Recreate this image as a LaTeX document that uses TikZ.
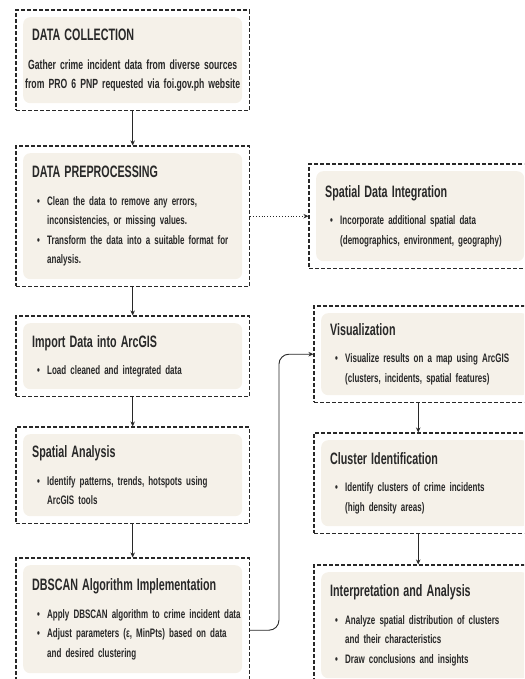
\documentclass[tikz,border=0pt]{standalone}
\usepackage{fontspec}
\setmainfont{Liberation Sans}[FakeStretch=0.65]
\usetikzlibrary{fit,arrows.meta}

\definecolor{paper}{RGB}{245,241,233}
\definecolor{ink}{RGB}{40,40,40}
\hyphenpenalty=10000
\newcommand{\hd}[1]{\noindent\hspace*{9pt}{\fontsize{16.5}{19}\selectfont #1}\par\vspace{8pt}}
\newcommand{\bl}[1]{\par\hangindent=24pt\hangafter=1\noindent\hspace*{14pt}\makebox[10pt][l]{\textbullet}#1\par}

\begin{document}
\begin{tikzpicture}[x=1pt,y=-1pt]
    \tikzstyle{every node}=[font=\fontsize{12.3}{19.5}\selectfont\bfseries, text=ink]
    \tikzstyle{stage}=[fill=paper, rounded corners=7pt, anchor=north west, inner xsep=0pt, inner ysep=0pt, text width=219pt, align=left]
    \tikzstyle{side}=[stage, text width=208pt]
    \tikzstyle{frame}=[draw=ink, line width=1.1pt, dash pattern=on 4pt off 2pt, inner sep=7pt]
    \tikzstyle{flow}=[draw=ink, line width=0.9pt, -{Stealth[length=5pt,width=4.5pt]}]

    \useasboundingbox (0,0) rectangle (524,679);
    \clip (0,0) rectangle (524,679);

    \node[stage, minimum height=86pt] (collect-in) at (23,17)
        {\hd{DATA COLLECTION}\vspace{2pt}{\centering\fontsize{13.3}{19}\selectfont Gather crime incident data from diverse sources\\ from PRO 6 PNP requested via foi.gov.ph website\par}};
    \node[stage, minimum height=126pt] (prep-in) at (23,153)
        {\hd{DATA PREPROCESSING}\bl{Clean the data to remove any errors,\newline inconsistencies, or missing values.}\bl{Transform the data into a suitable format for\newline analysis.}};
    \node[stage, minimum height=66pt] (import-in) at (23,323)
        {\hd{Import Data into ArcGIS}\bl{Load cleaned and integrated data}};
    \node[stage, minimum height=82pt] (analysis-in) at (23,434)
        {\hd{Spatial Analysis}\bl{Identify patterns, trends, hotspots using\newline ArcGIS tools}};
    \node[stage, minimum height=108pt] (dbscan-in) at (23,565)
        {\hd{DBSCAN Algorithm Implementation}\bl{\mbox{Apply DBSCAN algorithm to crime incident data}}\bl{Adjust parameters (ε, MinPts) based on data\newline and desired clustering}};

    \node[side, minimum height=90pt] (integ-in) at (316,171)
        {\hd{Spatial Data Integration}\bl{Incorporate additional spatial data\newline (demographics, environment, geography)}};
    \node[side, minimum height=82pt] (visual-in) at (321,313)
        {\hd{Visualization}\bl{Visualize results on a map using ArcGIS\newline (clusters, incidents, spatial features)}};
    \node[side, minimum height=86pt] (cluster-in) at (321,440)
        {\hd{Cluster Identification}\bl{Identify clusters of crime incidents\newline (high density areas)}};
    \node[side, minimum height=106pt] (interp-in) at (321,572)
        {\hd{Interpretation and Analysis}\bl{Analyze spatial distribution of clusters\newline and their characteristics}\bl{Draw conclusions and insights}};

    \foreach \n in {collect,prep,import,analysis,dbscan,integ,visual,cluster,interp}
        \node[frame, fit=(\n-in)] (\n) {};

    \draw[flow] (collect) -- (prep);
    \draw[flow] (prep) -- (import);
    \draw[flow] (import) -- (analysis);
    \draw[flow] (analysis) -- (dbscan);
    \draw[flow, dotted] (prep) -- (integ);
    \draw[flow, rounded corners=10pt] ([yshift=-11pt]dbscan.east) -- ++(29,0) |- (visual.west);
    \draw[flow] ([xshift=-7pt]visual.south) -- ([xshift=-7pt]cluster.north);
    \draw[flow] ([xshift=-7pt]cluster.south) -- ([xshift=-7pt]interp.north);
\end{tikzpicture}
\end{document}
